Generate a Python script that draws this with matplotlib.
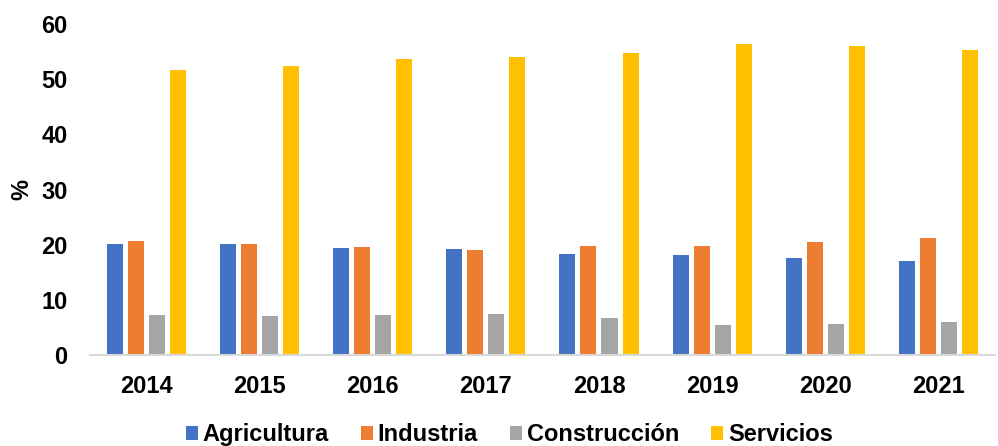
import numpy as np
import matplotlib.pyplot as plt

plt.rcParams['font.family'] = ['Liberation Sans', 'DejaVu Sans']
plt.rcParams['font.weight'] = 'bold'

years = ['2014', '2015', '2016', '2017', '2018', '2019', '2020', '2021']
agricultura = [20.1, 20.1, 19.4, 19.2, 18.3, 18.1, 17.6, 17.0]
industria = [20.6, 20.1, 19.5, 19.1, 19.8, 19.8, 20.5, 21.3]
construccion = [7.3, 7.1, 7.2, 7.4, 6.8, 5.4, 5.6, 6.0]
servicios = [51.7, 52.4, 53.6, 54.1, 54.7, 56.4, 56.1, 55.3]

series = [
    ('Agricultura', agricultura, '#4472C4'),
    ('Industria', industria, '#ED7D31'),
    ('Construcción', construccion, '#A5A5A5'),
    ('Servicios', servicios, '#FFC000'),
]

fig = plt.figure(figsize=(9.98, 4.46), dpi=100)
ax = fig.add_axes([0.09, 0.204, 0.907, 0.742])

x = np.arange(len(years))
slot = 0.186
width = 0.142
for i, (name, vals, col) in enumerate(series):
    ax.bar(x + (i - 1.5) * slot, vals, width, color=col, label=name)

ax.set_xlim(-0.5, len(years) - 0.5)
ax.set_ylim(0, 60)
ax.set_yticks(range(0, 61, 10))
ax.set_xticks(x)
ax.set_xticklabels(years)
ax.tick_params(axis='both', length=0, labelsize=17)
ax.tick_params(axis='x', pad=14.5)
ax.tick_params(axis='y', pad=16)
for s in ['top', 'right', 'left']:
    ax.spines[s].set_visible(False)
ax.spines['bottom'].set_color('#d9d9d9')
ax.spines['bottom'].set_linewidth(1.5)
ax.set_ylabel('%', fontsize=17, fontweight='bold')
ax.yaxis.set_label_coords(-0.062, 0.5)

fig.legend(loc='center', bbox_to_anchor=(0.5105, 0.025), ncol=4, frameon=False,
           fontsize=17, handlelength=0.5, handleheight=0.5, handletextpad=0.21,
           columnspacing=1.36, borderaxespad=0, borderpad=0)

fig.savefig('out.png', dpi=100)
